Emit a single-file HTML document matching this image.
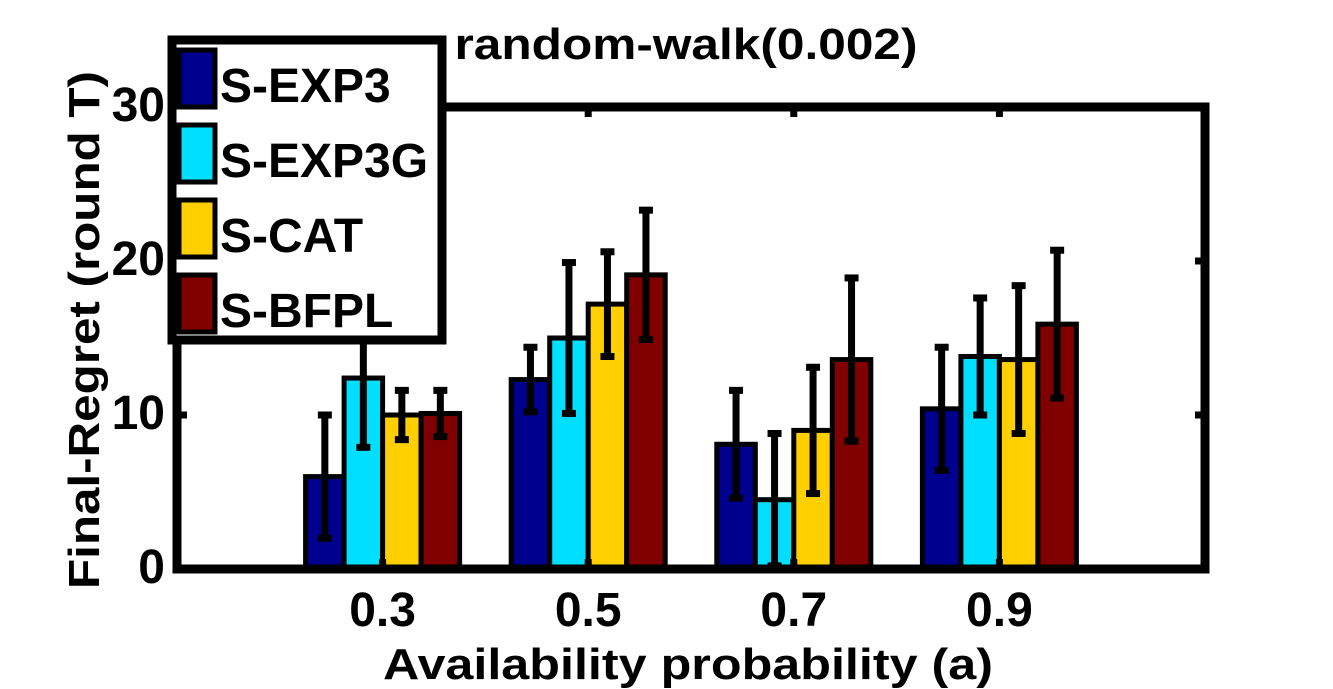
<!DOCTYPE html>
<html><head><meta charset="utf-8"><style>
html,body{margin:0;padding:0;background:#fff;}
svg{display:block;font-family:"Liberation Sans",Arial,sans-serif;font-weight:bold;}
</style></head><body>
<svg id="chart" width="1333" height="689" viewBox="0 0 1333 689" xmlns="http://www.w3.org/2000/svg">
<rect x="0" y="0" width="1333" height="689" fill="#fff"/>
<g id="bars"></g>
<g id="errs"></g>
<g id="axes"></g>
<text x="686" y="59" text-anchor="middle" font-size="44" textLength="463" lengthAdjust="spacingAndGlyphs">random-walk(0.002)</text>
<text x="688" y="679" text-anchor="middle" font-size="44" textLength="610" lengthAdjust="spacingAndGlyphs">Availability probability (a)</text>
<text transform="translate(99,330) rotate(-90)" text-anchor="middle" font-size="44" textLength="518" lengthAdjust="spacingAndGlyphs">Final-Regret (round T)</text>
<g id="legend"></g>
</svg>
<script>
const categories = ["0.3","0.5","0.7","0.9"];
const catValues = [0.3,0.5,0.7,0.9];
const seriesNames = ["S-EXP3","S-EXP3G","S-CAT","S-BFPL"];
const seriesColors = ["#00008f","#00dfff","#ffcf00","#800000"];
const expValues = [6.0, 12.3, 8.1, 10.4];
const expgValues = [12.4, 15.0, 4.5, 13.8];
const catValuesS = [10.0, 17.2, 9.0, 13.6];
const bfplValues = [10.1, 19.1, 13.6, 15.9];
const expErr = [4.0, 2.1, 3.5, 4.0];
const expgErr = [4.5, 4.9, 4.3, 3.8];
const catErr = [1.6, 3.4, 4.1, 4.8];
const bfplErr = [1.5, 4.2, 5.3, 4.8];
const yTicks = [0,10,20,30];
const yTickLabels = ["0","10","20","30"];

const NS="http://www.w3.org/2000/svg";
const X0=177,X1=1205,Y0=569,Y1=107;
const xMin=0.1,xMax=1.1,yMin=0,yMax=30;
const xs=v=>X0+(v-xMin)/(xMax-xMin)*(X1-X0);
const ys=v=>Y0-(v-yMin)/(yMax-yMin)*(Y0-Y1);
function mk(tag,attrs,parent){const e=document.createElementNS(NS,tag);for(const k in attrs)e.setAttribute(k,attrs[k]);parent.appendChild(e);return e;}
const bars=document.getElementById('bars');
const errG=document.getElementById('errs');
const axes=document.getElementById('axes');
const legend=document.getElementById('legend');
const allVals=[expValues,expgValues,catValuesS,bfplValues];
const allErr=[expErr,expgErr,catErr,bfplErr];
const bw=38.5;
for(let c=0;c<categories.length;c++){
  const cx=xs(catValues[c]);
  for(let s=0;s<4;s++){
    const x=cx+(s-2)*bw;
    const v=allVals[s][c];
    const r=mk('rect',{x:x,y:ys(v),width:bw,height:ys(0)-ys(v),fill:seriesColors[s],stroke:'#000','stroke-width':5},bars);
    
    
    const mx=x+bw/2,e=allErr[s][c];
    const lo=ys(v-e),hi=ys(v+e);
    const g=mk('g',{stroke:'#000','stroke-width':7},errG);
    
    
    mk('line',{x1:mx,x2:mx,y1:lo,y2:hi},g);
    mk('line',{x1:mx-7,x2:mx+7,y1:lo,y2:lo},g);
    mk('line',{x1:mx-7,x2:mx+7,y1:hi,y2:hi},g);
  }
}
const box=mk('rect',{x:X0,y:Y1,width:X1-X0,height:Y0-Y1,fill:'none',stroke:'#000','stroke-width':9},axes);


for(let i=0;i<yTicks.length;i++){
  const y=ys(yTicks[i]);
  mk('line',{x1:X0,x2:X0+10,y1:y,y2:y,stroke:'#000','stroke-width':7},axes);
  mk('line',{x1:X1-10,x2:X1,y1:y,y2:y,stroke:'#000','stroke-width':7},axes);
  const t=mk('text',{x:165,y:y+14,'text-anchor':'end','font-size':48},axes);
  t.textContent=yTickLabels[i];
  
  
}
for(let c=0;c<categories.length;c++){
  const x=xs(catValues[c]);
  mk('line',{x1:x,x2:x,y1:Y0,y2:Y0-10,stroke:'#000','stroke-width':7},axes);
  mk('line',{x1:x,x2:x,y1:Y1,y2:Y1+10,stroke:'#000','stroke-width':7},axes);
  const t=mk('text',{x:x,y:626,'text-anchor':'middle','font-size':48},axes);
  t.textContent=categories[c];
  
  
}
const lb=mk('rect',{x:172,y:40,width:270,height:300,fill:'#fff',stroke:'#000','stroke-width':9},legend);


for(let s=0;s<4;s++){
  const y=50+s*75;
  const g=mk('g',{},legend);
  
  
  mk('rect',{x:179,y:y,width:36,height:57,fill:seriesColors[s],stroke:'#000','stroke-width':5},g);
  const t=mk('text',{x:220,y:y+52,'font-size':48},g);
  t.textContent=seriesNames[s];
}
</script>
</body></html>
